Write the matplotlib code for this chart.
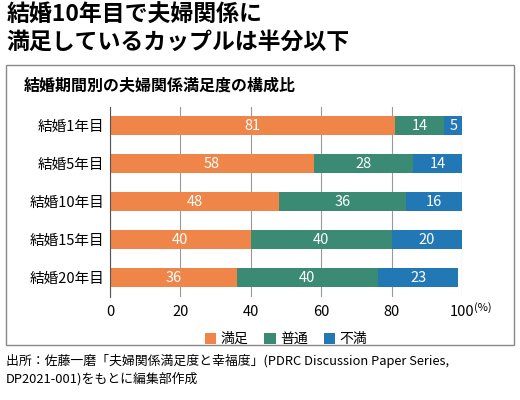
import matplotlib.pyplot as plt
from matplotlib.patches import FancyBboxPatch
import numpy as np

plt.rcParams['font.family'] = ['Noto Sans CJK JP', 'DejaVu Sans']

categories = ['結婚1年目', '結婚5年目', '結婚10年目', '結婚15年目', '結婚20年目']
satisfied = [81, 58, 48, 40, 36]
normal = [14, 28, 36, 40, 40]
unsatisfied = [5, 14, 16, 20, 23]
series = [('満足', satisfied, '#ef8549'), ('普通', normal, '#3a8a74'), ('不満', unsatisfied, '#2278b5')]

fig = plt.figure(figsize=(5.2, 4), dpi=100)
fig.text(0.012, 0.99, '結婚10年目で夫婦関係に\n満足しているカップルは半分以下', fontsize=16.5,
         fontweight='bold', va='top', linespacing=1.2)
box = FancyBboxPatch((0.012, 0.138), 0.976, 0.70, boxstyle='square,pad=0', transform=fig.transFigure,
                     fill=False, edgecolor='#888888', linewidth=1)
fig.patches.append(box)
fig.text(0.045, 0.785, '結婚期間別の夫婦関係満足度の構成比', fontsize=11.5, fontweight='bold', va='center')

ax = fig.add_axes([0.2115, 0.258, 0.677, 0.475])
y = np.arange(len(categories))
left = np.zeros(len(categories))
for name, vals, col in series:
    bars = ax.barh(y, vals, left=left, height=0.5, color=col, label=name, zorder=2)
    for b, v, l in zip(bars, vals, left):
        ax.text(l + v / 2, b.get_y() + b.get_height() / 2, str(v), ha='center', va='center',
                color='white', fontsize=10.5)
    left += np.array(vals)

ax.set_xlim(0, 100)
ax.set_ylim(len(categories) - 0.5, -0.5)
ax.set_yticks(y)
ax.set_yticklabels(categories, fontsize=10.5)
ax.set_xticks([0, 20, 40, 60, 80, 100])
ax.set_xticklabels(['0', '20', '40', '60', '80', '100'], fontsize=10.5)
ax.text(1.035, -0.055, '(%)', fontsize=8, va='center', ha='left', transform=ax.transAxes)
ax.xaxis.grid(True, color='#999999', linewidth=0.8, zorder=0)
for s in ['top', 'right', 'bottom']:
    ax.spines[s].set_visible(False)
ax.spines['left'].set_color('#555555')
ax.tick_params(length=0, pad=4)
ax.tick_params(axis='x', pad=6)
ax.legend(loc='upper center', bbox_to_anchor=(0.5, -0.12), ncol=3, frameon=False, fontsize=10,
          handlelength=0.8, handleheight=0.8, columnspacing=1.2, handletextpad=0.3)

fig.text(0.012, 0.115, '出所：佐藤一磨「夫婦関係満足度と幸福度」(PDRC Discussion Paper Series,\nDP2021-001)をもとに編集部作成',
         fontsize=9.3, va='top', linespacing=1.4)
fig.savefig('out.png')
